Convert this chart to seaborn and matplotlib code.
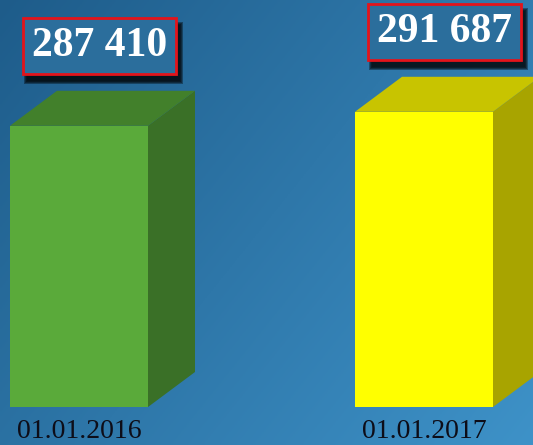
import numpy as np
import pandas as pd
import matplotlib
matplotlib.use("Agg")
import matplotlib.pyplot as plt
import seaborn as sns
from matplotlib.patches import Polygon, Rectangle
from matplotlib.transforms import IdentityTransform

# data
dates = ["01.01.2016", "01.01.2017"]
values = [287410, 291687]
labels = ["287 410", "291 687"]

front_cols = ["#5aaa3a", "#ffff00"]
top_cols = ["#42802b", "#c8c400"]
side_cols = ["#3a7027", "#a8a400"]

df = pd.DataFrame({"date": dates, "value": values})

sns.set_theme(style="white")
plt.rcParams["font.family"] = ["Liberation Serif", "DejaVu Serif"]

W, H = 533, 445
fig = plt.figure(figsize=(W / 100, H / 100), dpi=100)

# gradient background
bg = fig.add_axes([0, 0, 1, 1])
yy, xx = np.mgrid[0:1:200j, 0:1:200j]
t = (xx * 0.6 + yy * 0.4)
c0 = np.array([30, 92, 138]) / 255
c1 = np.array([62, 146, 200]) / 255
img = c0 + (c1 - c0) * t[..., None]
bg.imshow(img, extent=[0, 1, 0, 1], origin="upper", aspect="auto")
bg.axis("off")

# bar axes: baseline at y=407px
base_px = 407
ax = fig.add_axes([0, (H - base_px) / H, 1, base_px / H])
ax.patch.set_alpha(0)

sns.barplot(data=df, x="date", y="value", hue="date", palette=front_cols,
            width=0.4, legend=False, ax=ax, saturation=1, linewidth=0)

ybase = 201500
ax.set_ylim(ybase, ybase + base_px * 305.5)
ax.set_xlim(-0.229, 1.316)

# 3d depth
depth_x_px, depth_y_px = 47, 35
dx = depth_x_px * (1.316 + 0.229) / W
dy = depth_y_px * 305.5

boxes = []
for i, bar in enumerate(ax.patches[:len(values)]):
    x0 = bar.get_x()
    x1 = x0 + bar.get_width()
    v = values[i]
    side = Polygon([(x1, ybase), (x1 + dx, ybase + dy), (x1 + dx, v + dy), (x1, v)],
                   closed=True, facecolor=side_cols[i], edgecolor="none", zorder=1)
    top = Polygon([(x0, v), (x0 + dx, v + dy), (x1 + dx, v + dy), (x1, v)],
                  closed=True, facecolor=top_cols[i], edgecolor="none", zorder=1)
    ax.add_patch(side)
    ax.add_patch(top)
    bar.set_zorder(2)

    cx = x0 + bar.get_width() / 2
    a = ax.annotate(labels[i], xy=(cx, v), xytext=(20.5 * 0.72, 80 * 0.72),
                    textcoords="offset points", ha="center", va="center",
                    fontsize=30, fontweight="bold", color="white",
                    bbox=dict(boxstyle="square,pad=0.21", facecolor="#2b6e9c",
                              edgecolor="#e3141b", linewidth=2), zorder=5)
    boxes.append(a)

ax.set_xlabel("")
ax.set_ylabel("")
ax.set_yticks([])
ax.tick_params(axis="x", length=0, pad=9, labelsize=20, labelcolor="#0d0d18")
for s in ax.spines.values():
    s.set_visible(False)

# soft drop shadow behind the label boxes
fig.canvas.draw()
for a in boxes:
    ext = a.get_bbox_patch().get_window_extent()
    for k in range(7):
        grow = 7 - k
        sh = Rectangle((ext.x0 + 4 - grow / 2, ext.y0 - 7 - grow / 2),
                       ext.width + grow, ext.height + grow,
                       transform=IdentityTransform(), facecolor="black",
                       edgecolor="none", alpha=0.2, zorder=4)
        ax.add_artist(sh)

fig.savefig("out.png", dpi=100)
